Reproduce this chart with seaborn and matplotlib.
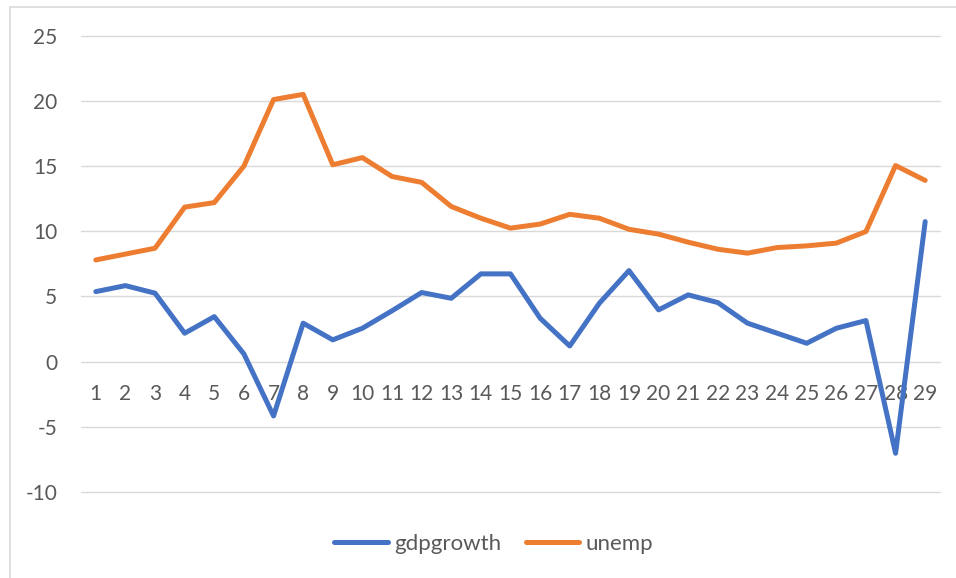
import matplotlib
matplotlib.use("Agg")
import matplotlib.pyplot as plt
import seaborn as sns
import pandas as pd
from matplotlib.patches import Rectangle
from matplotlib.lines import Line2D

periods = list(range(1, 30))
gdpgrowth = [5.37, 5.83, 5.25, 2.18, 3.45, 0.59, -4.17, 2.95, 1.67, 2.56,
             3.9, 5.3, 4.86, 6.73, 6.73, 3.33, 1.2, 4.48, 6.98, 3.97,
             5.12, 4.53, 2.95, 2.18, 1.41, 2.56, 3.15, -7.03, 10.74]
unemp = [7.8, 8.25, 8.7, 11.85, 12.2, 15.0, 20.1, 20.5, 15.1, 15.65,
         14.2, 13.75, 11.9, 11.0, 10.24, 10.55, 11.3, 11.0, 10.15, 9.78,
         9.16, 8.62, 8.32, 8.75, 8.88, 9.09, 9.98, 15.04, 13.9]
series_names = ["gdpgrowth", "unemp"]
y_ticks = [-10, -5, 0, 5, 10, 15, 20, 25]

df = pd.DataFrame({
    "period": periods * 2,
    "value": gdpgrowth + unemp,
    "series": [series_names[0]] * len(periods) + [series_names[1]] * len(periods),
})

sns.set_theme(style="white")
plt.rcParams["font.family"] = ["Lato", "DejaVu Sans"]
text_color = "#595959"
grid_color = "#D9D9D9"
colors = {"gdpgrowth": "#4472C4", "unemp": "#ED7D31"}
lw = 3.6

fig = plt.figure(figsize=(9.56, 5.78), dpi=100)
ax = fig.add_axes([81 / 956, 1 - 492 / 578, (940 - 81) / 956, (492 - 35.7) / 578])

sns.lineplot(data=df, x="period", y="value", hue="series",
             palette=colors, linewidth=lw, ax=ax, legend=False, zorder=3)
for l in ax.lines:
    l.set_solid_joinstyle("round")
    l.set_solid_capstyle("round")

ax.set_xlim(0.5, 29.5)
ax.set_ylim(-10, 25)
ax.set_yticks(y_ticks)
ax.set_yticklabels([str(v) for v in y_ticks])
ax.set_xticks(periods)
ax.set_xticklabels([str(p) for p in periods])
ax.set_xlabel("")
ax.set_ylabel("")

for v in y_ticks:
    ax.axhline(v, color=grid_color, lw=1.0, zorder=1, clip_on=False)

for s in ax.spines.values():
    s.set_visible(False)
ax.spines["bottom"].set_position(("data", 0))
ax.tick_params(axis="x", length=0, pad=16, labelsize=15, colors=text_color)
ax.tick_params(axis="y", length=0, pad=17, labelsize=15, colors=text_color)

handles = [Line2D([0], [0], color=colors[n], lw=lw, solid_capstyle="round")
           for n in series_names]
fig.legend(handles, series_names, loc="center", bbox_to_anchor=(0.5167, 1 - 544 / 578),
           ncol=2, frameon=False, fontsize=16, handlelength=2.4, handletextpad=0.3,
           columnspacing=1.1, labelcolor=text_color)

fig.patches.append(Rectangle((10 / 956, -0.01), 1.0, 1 - 7 / 578 + 0.01,
                             transform=fig.transFigure, fill=False,
                             edgecolor="#D9D9D9", lw=1.2, zorder=0))

fig.savefig("out.png", dpi=100)
